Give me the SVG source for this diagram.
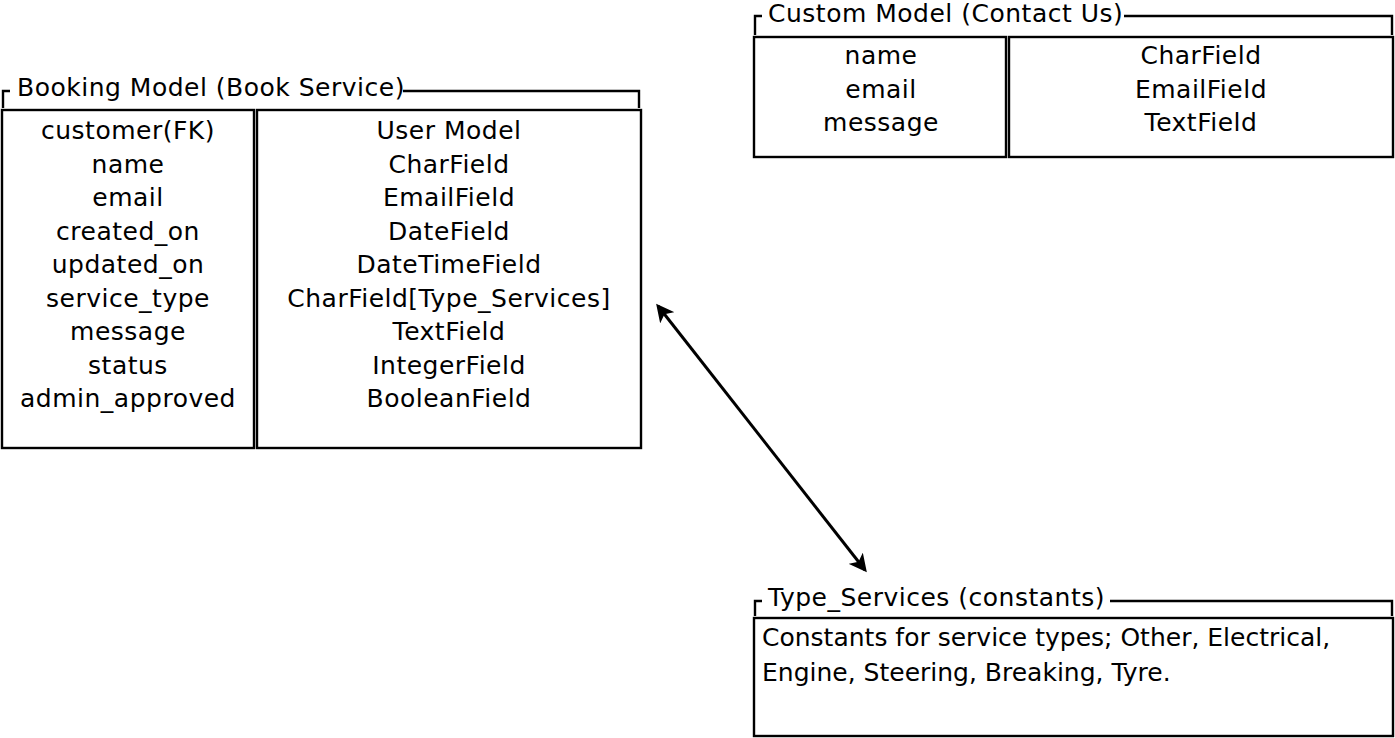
<svg xmlns="http://www.w3.org/2000/svg" width="1395" height="738" viewBox="0 0 1395 738">
<style>
.t{font-family:"DejaVu Sans","Liberation Sans",sans-serif;font-size:25px;fill:#000;letter-spacing:0.5px}
.c{text-anchor:middle}
.p{letter-spacing:0}
.box{fill:none;stroke:#000;stroke-width:2.4}
.br{fill:none;stroke:#000;stroke-width:2.4}
</style>
<defs>
<marker id="ah" viewBox="0 0 12 12" refX="10" refY="6" markerWidth="6" markerHeight="6" orient="auto-start-reverse">
<path d="M0,0 L12,6 L0,12 L3,6 z" fill="#000"/>
</marker>
</defs>
<rect width="1395" height="738" fill="#fff"/>
<g id="booking">
<path class="br" d="M3,108 V91 H10 M403,91 H639 V108"/>
<text class="t" x="17" y="96" letter-spacing="0.3">Booking Model (Book Service)</text>
<rect class="box" x="2" y="110" width="252" height="338"/>
<rect class="box" x="257" y="110" width="384" height="338"/>
<g class="t c">
<text x="128" y="139">customer(FK)</text>
<text x="128" y="172.5">name</text>
<text x="128" y="206">email</text>
<text x="128" y="240">created_on</text>
<text x="128" y="273">updated_on</text>
<text x="128" y="307">service_type</text>
<text x="128" y="340">message</text>
<text x="128" y="374">status</text>
<text x="128" y="407">admin_approved</text>
<text x="449" y="139">User Model</text>
<text x="449" y="172.5">CharField</text>
<text x="449" y="206">EmailField</text>
<text x="449" y="240">DateField</text>
<text x="449" y="273">DateTimeField</text>
<text x="449" y="307">CharField[Type_Services]</text>
<text x="449" y="340">TextField</text>
<text x="449" y="374">IntegerField</text>
<text x="449" y="407">BooleanField</text>
</g>
</g>
<g id="custom">
<path class="br" d="M755,35 V16 H762 M1124,16 H1392 V35"/>
<text class="t" x="768" y="22">Custom Model (Contact Us)</text>
<rect class="box" x="754" y="37" width="252" height="120"/>
<rect class="box" x="1009" y="37" width="384" height="120"/>
<g class="t c">
<text x="881" y="64">name</text>
<text x="881" y="98">email</text>
<text x="881" y="131">message</text>
<text x="1201" y="64">CharField</text>
<text x="1201" y="98">EmailField</text>
<text x="1201" y="131">TextField</text>
</g>
</g>
<g id="type_services">
<path class="br" d="M755,616 V601 H762 M1110,601 H1392 V616"/>
<text class="t" x="768" y="606">Type_Services (constants)</text>
<rect class="box" x="754" y="618" width="639" height="118"/>
<text class="t p" x="762" y="646">Constants for service types; Other, Electrical,</text>
<text class="t p" x="762" y="681">Engine, Steering, Breaking, Tyre.</text>
</g>
<g id="connectors">
<line x1="658" y1="306" x2="865" y2="570" stroke="#000" stroke-width="3" marker-start="url(#ah)" marker-end="url(#ah)"/>
</g>
</svg>
